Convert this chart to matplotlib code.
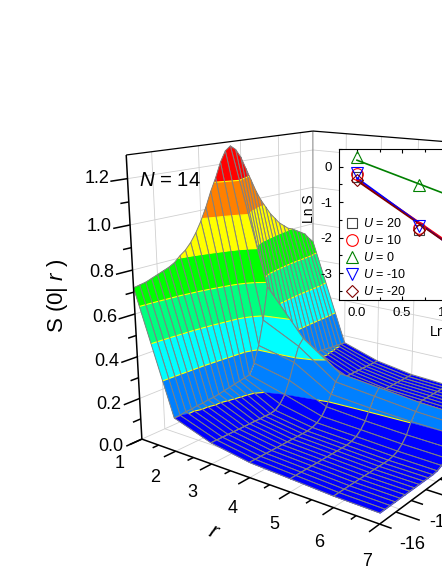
import numpy as np
import matplotlib
matplotlib.use('Agg')
import matplotlib.pyplot as plt
from mpl_toolkits.mplot3d import proj3d
from mpl_toolkits.mplot3d.art3d import Poly3DCollection, Line3DCollection

plt.rcParams['font.family'] = ['Liberation Sans', 'DejaVu Sans']
plt.rcParams['mathtext.fontset'] = 'custom'
plt.rcParams['mathtext.rm'] = 'Liberation Sans'
plt.rcParams['mathtext.it'] = 'Liberation Sans:italic'
plt.rcParams['axes.unicode_minus'] = False

r_vals = [1, 2, 3, 4, 5, 6, 7]
u_half = list(range(-18, 1))
s_r1 = [.72, .725, .73, .74, .75, .76, .77, .785, .81, .83, .86, .90, .95, 1.01, 1.08, 1.14, 1.21, 1.26, 1.28]
s_r1_back = [1.26, 1.22, 1.16, 1.10, 1.04, .99, .95, .91, .88, .85, .83, .81, .80, .785, .77, .755, .725, .70]
s_r2 = [.16, .16, .165, .165, .17, .17, .175, .175, .18, .185, .19, .195, .20, .205, .21, .26, .34, .46, .62]
s_r3 = [.10, .10, .10, .10, .10, .10, .10, .10, .10, .10, .10, .10, .105, .125, .16, .22, .30, .37, .40]
s_r4 = [.07, .07, .07, .07, .07, .07, .07, .07, .07, .07, .07, .07, .075, .085, .105, .14, .19, .24, .27]
s_r5 = [.06, .06, .06, .06, .06, .06, .06, .06, .06, .06, .06, .06, .065, .075, .095, .125, .175, .22, .25]
s_r6 = [.05, .05, .05, .05, .05, .05, .05, .05, .05, .05, .05, .05, .055, .065, .085, .115, .165, .20, .23]
s_r7 = [.047, .047, .047, .047, .047, .047, .047, .047, .047, .047, .047, .047, .05, .06, .08, .11, .16, .19, .22]

levels = [0, .16, .32, .48, .64, .80, .96, 1.12, 1.30]
band_colors = ['#0000ff', '#0080ff', '#00ffff', '#00ff80', '#00ff00', '#ffff00', '#ff8000', '#ff0000']

z_major = [0, .2, .4, .6, .8, 1.0, 1.2]
z_minor = [.1, .3, .5, .7, .9, 1.1]
r_minor = [1.5, 2.5, 3.5, 4.5, 5.5, 6.5]
u_major = [-16, -12, -8]
u_minor = [-18, -14, -10]
u_labels = [-16, -12]
u_stretch = 1.6
wall_u = [-14, -6, 2, 10, 15]

ln_r = [0, .693]
ln_fit = [0, 1.95]
inset_series = [
    ('$U$ = 20', 's', '#404040', 7.2, [-.30, -1.80], [-.38, -3.80]),
    ('$U$ = 10', 'o', '#ff0000', 8.4, [-.20, -1.72], [-.36, -3.78]),
    ('$U$ = 0', '^', '#008000', 8.6, [.26, -.53], [.18, -1.71]),
    ('$U$ = -10', 'v', '#0000ff', 8.6, [-.17, -1.68], [-.32, -3.91]),
    ('$U$ = -20', 'D', '#800000', 6.4, [-.38, -1.80], [-.40, -3.83]),
]

u_vals = np.array(u_half + [-u for u in u_half[-2::-1]], dtype=float)
surface = np.array([row + row[-2::-1] for row in (s_r1, s_r2, s_r3, s_r4, s_r5, s_r6, s_r7)])
surface[0, len(u_half):] = s_r1_back
r_arr = np.array(r_vals, dtype=float)
U0, U1, ZTOP = -18, 18, 1.3

# axes square in pixels, runs past the right edge of the figure
size, cx, cy = 480.02, 334.27, 301.75

fig = plt.figure(figsize=(4.42, 5.71), dpi=100)
ax = fig.add_axes([(cx - size / 2) / 442, 1 - (cy + size / 2) / 571, size / 442, size / 571],
                  projection='3d', computed_zorder=False)
ax.set_xlim(1, 7)
ax.set_ylim(U0, U1)
ax.set_zlim(0, ZTOP)
ax.set_axis_off()
ax.patch.set_alpha(0)
ax.view_init(elev=15.6456, azim=-54.5492, roll=-.3998)
ax.set_proj_type('persp', focal_length=.3597)
ax.set_box_aspect((1, .9971, .9965))
ax.apply_aspect()


def to_px(x, y, z):
    X, Y, _ = proj3d.proj_transform(np.array(x, float), np.array(y, float), np.array(z, float), ax.get_proj())
    P = ax.transData.transform(np.column_stack([X, Y]))
    return P[:, 0], 571 - P[:, 1]


def clip_poly(pts, lo, hi):
    def clip(poly, level, keep_above):
        out = []
        n = len(poly)
        for a in range(n):
            P, Q = poly[a], poly[(a + 1) % n]
            da = P[2] - level if keep_above else level - P[2]
            db = Q[2] - level if keep_above else level - Q[2]
            if da >= 0:
                out.append(P)
            if da * db < 0:
                t = da / (da - db)
                out.append(tuple(P[m] + t * (Q[m] - P[m]) for m in range(3)))
        return out
    res = clip(pts, lo, True)
    if res:
        res = clip(res, hi, False)
    return res


# walls and their grid
wall_c = '#d0d0d0'
grid = []
for z in z_major[1:]:
    grid.append([(1, U0, z), (1, U1, z)])
    grid.append([(1, U1, z), (7, U1, z)])
for u in wall_u:
    grid.append([(1, u, 0), (1, u, ZTOP)])
    grid.append([(1, u, 0), (7, u, 0)])
for r in r_vals[1:]:
    grid.append([(r, U0, 0), (r, U1, 0)])
    grid.append([(r, U1, 0), (r, U1, ZTOP)])
grid.append([(1, U0, 0), (1, U1, 0)])
grid.append([(1, U1, 0), (7, U1, 0)])
ax.add_collection3d(Line3DCollection(grid, colors=wall_c, linewidths=.6, zorder=1), autolim=False)
ax.add_collection3d(Line3DCollection([[(1, U1, 0), (1, U1, ZTOP)]], colors='#808080', linewidths=.7, zorder=1), autolim=False)
ax.add_collection3d(Line3DCollection([[(1, U0, ZTOP), (1, U1, ZTOP)], [(1, U1, ZTOP), (7, U1, ZTOP)]],
                                     colors='k', linewidths=.9, zorder=1), autolim=False)

# surface, far cells first
order = 10
for i in range(len(r_arr) - 1):
    for j in range(len(u_vals) - 2, -1, -1):
        quad = [(r_arr[i], u_vals[j], surface[i, j]), (r_arr[i], u_vals[j + 1], surface[i, j + 1]),
                (r_arr[i + 1], u_vals[j + 1], surface[i + 1, j + 1]), (r_arr[i + 1], u_vals[j], surface[i + 1, j])]
        polys, cols = [], []
        for b in range(len(band_colors)):
            pc = clip_poly(quad, levels[b], levels[b + 1])
            if len(pc) >= 3:
                polys.append(pc)
                cols.append(band_colors[b])
        ax.add_collection3d(Poly3DCollection(polys, facecolors=cols, edgecolors=cols, linewidths=.2, zorder=order), autolim=False)
        order += 1
        segs = []
        for lev in levels[1:-1]:
            cr = []
            for a in range(4):
                P, Q = quad[a], quad[(a + 1) % 4]
                if (P[2] - lev) * (Q[2] - lev) < 0:
                    t = (lev - P[2]) / (Q[2] - P[2])
                    cr.append(tuple(P[m] + t * (Q[m] - P[m]) for m in range(3)))
            if len(cr) == 2:
                segs.append(cr)
        if segs:
            ax.add_collection3d(Line3DCollection(segs, colors='#ffff00', linewidths=.8, zorder=order), autolim=False)
        order += 1
        ax.add_collection3d(Line3DCollection([quad + [quad[0]]], colors='#808080', linewidths=.7, zorder=order), autolim=False)
        order += 1

# axes and ticks
top = order + 1
u_tick = lambda t: U0 + (t - U0) * u_stretch
axis_lines = [[(1, U0, 0), (1, U0, ZTOP)], [(1, U0, 0), (7, U0, 0)], [(7, U0, 0), (7, U1, 0)]]
for z in z_major:
    axis_lines.append([(1, U0, z), (1, U0 - 2.6, z)])
for z in z_minor:
    axis_lines.append([(1, U0, z), (1, U0 - 1.3, z)])
for r in r_vals:
    axis_lines.append([(r, U0, 0), (r, U0 - 2, 0)])
for r in r_minor:
    axis_lines.append([(r, U0, 0), (r, U0 - 1, 0)])
for u in u_major:
    axis_lines.append([(7, u_tick(u), 0), (7.5, u_tick(u), 0)])
for u in u_minor:
    axis_lines.append([(7, u_tick(u), 0), (7.25, u_tick(u), 0)])
ax.add_collection3d(Line3DCollection(axis_lines, colors='k', linewidths=1.1, zorder=top), autolim=False)


def px_text(xp, yp, s, **kw):
    fig.text(xp / 442, 1 - yp / 571, s, **kw)


for z in z_major:
    xp, yp = to_px([1], [U0], [z])
    px_text(xp[0] - 18, yp[0] + 7 * (1 - z / 1.2), f'{z:.1f}', fontsize=13, ha='right', va='center')
for r in r_vals:
    xp, yp = to_px([r], [U0], [0])
    px_text(xp[0] - 22 + 1.5 * (r - 1), yp[0] + 24 + 2.17 * (r - 1), str(r), fontsize=13, ha='center', va='center')
for u in u_labels:
    xp, yp = to_px([7], [u_tick(u)], [0])
    px_text(xp[0] + 16, yp[0] + 33, str(u), fontsize=13, ha='center', va='center')

px_text(214, 532, '$r$', fontsize=16, ha='center', va='center', rotation=-25)
px_text(57, 296, 'S (0| $r$ )', fontsize=16, ha='center', va='center', rotation=90)
px_text(170, 181, '$N$ = 14', fontsize=14.7, ha='center', va='center')

# inset
ix0, ix1, iy0, iy1 = 339, 546, 148.5, 300
axin = fig.add_axes([ix0 / 442, 1 - iy1 / 571, (ix1 - ix0) / 442, (iy1 - iy0) / 571])
for label, mk, col, ms, ys, fit in inset_series:
    axin.plot(ln_fit, fit, '-', color=col, lw=1.2)
for label, mk, col, ms, ys, fit in inset_series:
    axin.plot(ln_r, ys, mk, mfc='none', mec=col, mew=.8, ms=ms)
    axin.plot([], [], mk, mfc='none', mec=col, mew=.8, ms=ms, label=label)
axin.set_xlim(-.2, 2.1)
axin.set_ylim(-3.76, .51)
axin.set_xticks([0, .5, 1, 1.5, 2])
axin.set_xticklabels(['0.0', '0.5', '1.0', '', ''])
axin.set_xticks([.25, .75, 1.25, 1.75], minor=True)
axin.set_yticks([0, -1, -2, -3])
axin.set_yticks([.5, -.5, -1.5, -2.5, -3.5], minor=True)
axin.tick_params(which='both', direction='in', top=True, right=True, labelsize=9.5, width=.8, pad=5)
axin.tick_params(which='major', length=3)
axin.tick_params(which='minor', length=2)
axin.set_xlabel('Ln $r$', fontsize=10)
axin.set_ylabel('Ln S', fontsize=10)
axin.xaxis.set_label_coords(.5, -.165)
axin.yaxis.set_label_coords(-.11, .6)
axin.legend(loc='lower left', bbox_to_anchor=(0, -.02), frameon=False, fontsize=9, handletextpad=.2,
            labelspacing=.32, numpoints=1, handlelength=1.3, borderpad=.2, borderaxespad=.2)

fig.savefig('out.png', dpi=100)
